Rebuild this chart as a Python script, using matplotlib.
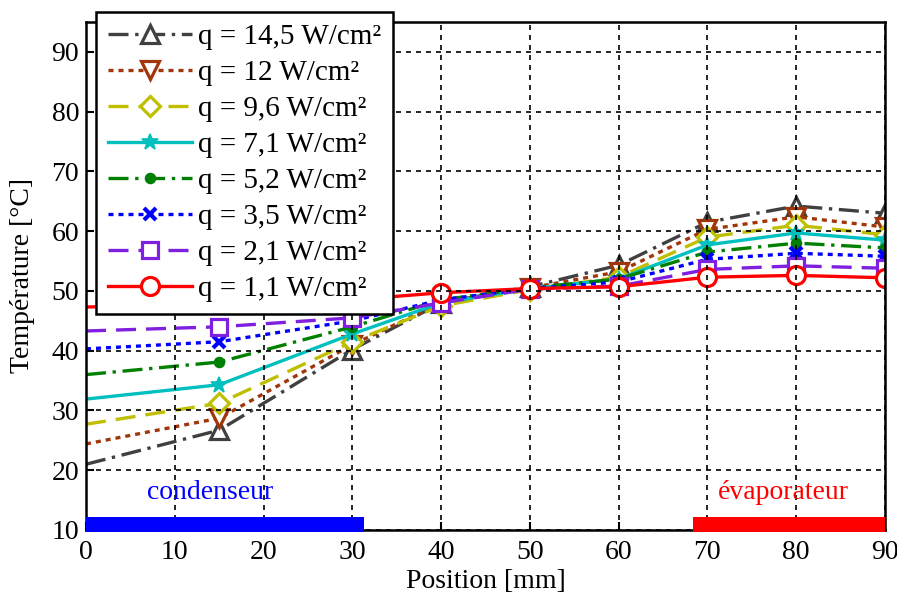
import matplotlib
matplotlib.use("Agg")
import matplotlib.pyplot as plt

plt.rcParams['font.family'] = ['Liberation Serif', 'DejaVu Serif']
plt.rcParams['mathtext.fontset'] = 'stix'

positions = [0, 15, 30, 40, 50, 60, 70, 80, 90]
labels = ["q = 14,5 W/cm²", "q = 12 W/cm²", "q = 9,6 W/cm²", "q = 7,1 W/cm²",
          "q = 5,2 W/cm²", "q = 3,5 W/cm²", "q = 2,1 W/cm²", "q = 1,1 W/cm²"]
t_145 = [21.0, 26.7, 40.2, 48.0, 50.7, 54.3, 61.5, 64.2, 63.0]
t_12 = [24.4, 28.7, 41.0, 48.0, 50.5, 53.2, 60.3, 62.4, 60.7]
t_96 = [27.7, 31.2, 41.5, 47.5, 50.2, 52.3, 59.0, 61.0, 59.4]
t_71 = [31.9, 34.3, 42.8, 48.0, 50.4, 52.0, 57.7, 59.7, 58.5]
t_52 = [36.0, 38.1, 44.0, 48.5, 50.5, 52.0, 56.5, 58.0, 57.2]
t_35 = [40.3, 41.5, 45.0, 48.5, 50.4, 51.5, 55.3, 56.3, 55.8]
t_21 = [43.3, 44.0, 45.5, 48.0, 50.3, 50.8, 53.6, 54.2, 53.8]
t_11 = [47.3, 48.0, 48.5, 49.7, 50.4, 50.7, 52.3, 52.6, 52.2]
series = [t_145, t_12, t_96, t_71, t_52, t_35, t_21, t_11]

colors = ['#404040', '#a0360a', '#bfbf00', '#00bfbf', '#008000', '#0000ff', '#7f1fdf', '#ff0000']
markers = ['^', 'v', 'D', '*', 'o', 'x', 's', 'o']
msizes = [13, 13, 10, 12, 6, 8, 12, 13]
filled = [False, False, False, True, True, True, False, False]
dashes = [(6, 2, 1, 2), (1.5, 1.5), (6, 3), None, (6, 2, 1, 2), (1.5, 1.5), (6, 3), None]

fig = plt.figure(figsize=(8.97, 5.99), dpi=100)
ax = fig.add_axes([0.0959, 0.1152, 0.8907, 0.8481])

for s, lab, c, m, ms, f, d in zip(series, labels, colors, markers, msizes, filled, dashes):
    kw = dict(color=c, lw=2.4, marker=m, markersize=ms, markeredgewidth=2.3,
              markerfacecolor=(c if f else 'white'), markeredgecolor=c,
              markevery=list(range(1, len(positions))), label=lab)
    if m == 'x':
        kw['markeredgewidth'] = 3
    if m == '*':
        kw['markeredgewidth'] = 1.2
    line, = ax.plot(positions, s, **kw)
    if d is not None:
        line.set_dashes(d)
        line.set_dash_capstyle('butt')

ax.set_xlim(0, 90)
ax.set_ylim(10, 95)
ax.set_xticks(range(0, 91, 10))
ax.set_yticks(range(10, 91, 10))
ax.tick_params(direction='in', length=6, width=1.5, labelsize=20, pad=5)
ax.tick_params(axis='x', pad=7)
for sp in ax.spines.values():
    sp.set_linewidth(1.8)
ax.grid(True, color='black', linestyle=(0, (3, 3)), linewidth=1.2)
ax.set_axisbelow(False)

ax.set_xlabel("Position [mm]", fontsize=20, labelpad=3)
ax.set_ylabel("Température [°C]", fontsize=20, labelpad=12)

# condenser / evaporator zones
ax.barh(10.9, 31.3, left=0, height=2.4, color='#0000ff', clip_on=False, zorder=5)
ax.barh(10.9, 90 - 68.4, left=68.4, height=2.4, color='#ff0000', clip_on=False, zorder=5)
ax.text(14.0, 16.2, "condenseur", color='#0000ff', fontsize=20, ha='center', va='center')
ax.text(78.6, 16.2, "évaporateur", color='#ff0000', fontsize=20, ha='center', va='center')

leg = ax.legend(loc='upper left', bbox_to_anchor=(96 / 897, 1 - 12 / 599),
                bbox_transform=fig.transFigure, fontsize=21, handlelength=2.9,
                labelspacing=0.33, borderpad=0.4, handletextpad=0.2,
                fancybox=False, framealpha=1, edgecolor='black', borderaxespad=0)
leg.get_frame().set_linewidth(1.8)
leg.set_zorder(10)

fig.savefig("out.png", dpi=100)
